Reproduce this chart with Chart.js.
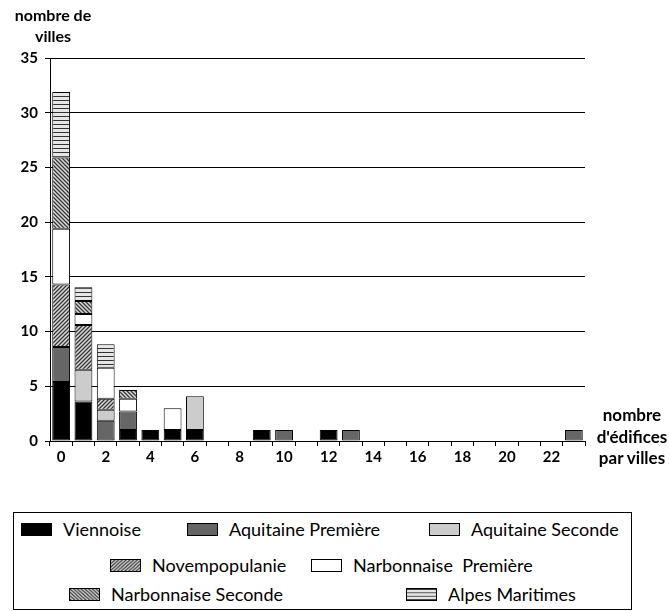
<!DOCTYPE html>
<html>
<head>
<meta charset="utf-8">
<script src="https://cdn.jsdelivr.net/npm/chart.js@4.4.0/dist/chart.umd.min.js"></script>
<style>
    body { margin: 0; background: #fff; font-family: "Lato", sans-serif; }
    #page { position: relative; width: 669px; height: 611px; }
    #chartBox { position: absolute; left: 0; top: 0; width: 669px; height: 470px; }
    .axisTitle { position: absolute; font-weight: bold; text-align: center; color: #000; }
    #legend { position: absolute; left: 13px; top: 512px; width: 617px; height: 96px; border: 1px solid #000; }
    .item { position: absolute; display: flex; align-items: center; height: 22px; line-height: 22px; font-size: 18px; color: #000; white-space: pre; }
    .item canvas { width: 31px; height: 13px; border: 1px solid #000; margin-right: 11px; box-sizing: border-box; }
</style>
</head>
<body>
<div id="page">
    <div id="chartBox"><canvas id="chart"></canvas></div>
    <div class="axisTitle" style="left:3px; top:4px; width:100px; font-size:16px; line-height:21px;">nombre de<br>villes</div>
    <div class="axisTitle" style="left:587px; top:404px; width:90px; font-size:17px; line-height:21.5px;">nombre<br>d'édifices<br>par villes</div>
    <div id="legend"></div>
</div>
<script>
// nombre d'édifices par ville (0 .. 23)
const categories = ['0','1','2','3','4','5','6','7','8','9','10','11','12','13','14','15','16','17','18','19','20','21','22','23'];

const viennoise     = [5.4, 3.6, 0,    1,    1, 1, 1,   0, 0, 1, 0, 0, 1, 0, 0, 0, 0, 0, 0, 0, 0, 0, 0, 0];
const aquitaine1    = [3.2, 0,   1.85, 1.7,  0, 0, 0,   0, 0, 0, 1, 0, 0, 1, 0, 0, 0, 0, 0, 0, 0, 0, 0, 1];
const aquitaine2    = [0,   2.9, 1,    0,    0, 0, 3.1, 0, 0, 0, 0, 0, 0, 0, 0, 0, 0, 0, 0, 0, 0, 0, 0, 0];
const novempopulanie = [5.7, 4.1, 1,   0,    0, 0, 0,   0, 0, 0, 0, 0, 0, 0, 0, 0, 0, 0, 0, 0, 0, 0, 0, 0];
const narbonnaise1  = [5.1, 1,   2.85, 1.15, 0, 2, 0,   0, 0, 0, 0, 0, 0, 0, 0, 0, 0, 0, 0, 0, 0, 0, 0, 0];
const narbonnaise2  = [6.5, 1.2, 0,    0.8,  0, 0, 0,   0, 0, 0, 0, 0, 0, 0, 0, 0, 0, 0, 0, 0, 0, 0, 0, 0];
const alpes         = [6,   1.25, 2.15, 0,   0, 0, 0,   0, 0, 0, 0, 0, 0, 0, 0, 0, 0, 0, 0, 0, 0, 0, 0, 0];

const yTicks = [0, 5, 10, 15, 20, 25, 30, 35];

// hatch patterns
function makePattern(kind) {
    const c = document.createElement('canvas');
    const s = 4;
    c.width = s; c.height = s;
    const g = c.getContext('2d');
    g.fillStyle = kind == 'h' ? '#e6e6e6' : '#dcdcdc';
    g.fillRect(0, 0, s, s);
    g.strokeStyle = '#333';
    g.lineWidth = 1.3;
    g.beginPath();
    if (kind == 'h') {
        g.lineWidth = 1;
        g.moveTo(0, 0.5); g.lineTo(s, 0.5);
    } else if (kind == 'f') { // "/"
        g.moveTo(0, s); g.lineTo(s, 0);
        g.moveTo(-1, 1); g.lineTo(1, -1);
        g.moveTo(s - 1, s + 1); g.lineTo(s + 1, s - 1);
    } else { // "\"
        g.moveTo(0, 0); g.lineTo(s, s);
        g.moveTo(-1, s - 1); g.lineTo(1, s + 1);
        g.moveTo(s - 1, -1); g.lineTo(s + 1, 1);
    }
    g.stroke();
    return g.createPattern(c, 'repeat');
}

const series = [
    { label: 'Viennoise', data: viennoise, fill: '#000000' },
    { label: 'Aquitaine Première', data: aquitaine1, fill: '#666666' },
    { label: 'Aquitaine Seconde', data: aquitaine2, fill: '#cccccc' },
    { label: 'Novempopulanie', data: novempopulanie, fill: makePattern('f') },
    { label: 'Narbonnaise  Première', data: narbonnaise1, fill: '#ffffff' },
    { label: 'Narbonnaise Seconde', data: narbonnaise2, fill: makePattern('b') },
    { label: 'Alpes Maritimes', data: alpes, fill: makePattern('h') }
];

const datasets = series.map(function(s) {
    return {
        label: s.label,
        data: s.data.map(function(v) { return v == 0 ? null : v; }),
        backgroundColor: s.fill,
        borderColor: '#000',
        borderWidth: 1,
        borderSkipped: false,
        barPercentage: 0.8,
        categoryPercentage: 1
    };
});

const ctx = document.getElementById('chart');
let chart = new Chart(ctx, {
    type: 'bar',
    data: { labels: categories, datasets: datasets },
    options: {
        responsive: true,
        maintainAspectRatio: false,
        animation: false,
        layout: { padding: { left: 0, top: 58, right: 84, bottom: 0 } },
        plugins: { legend: { display: false }, tooltip: { enabled: false } },
        scales: {
            x: {
                stacked: true,
                afterFit: function(scale) { scale.height = 29; },
                grid: { offset: true, drawOnChartArea: false, drawTicks: true, tickLength: 5, color: '#000', lineWidth: 1 },
                border: { display: true, color: '#000', width: 1 },
                ticks: {
                    autoSkip: false,
                    maxRotation: 0,
                    padding: 2,
                    color: '#000',
                    font: { family: 'Lato', size: 15, weight: 'bold' },
                    callback: function(val, index) { return index % 2 == 0 ? categories[index] : ''; }
                }
            },
            y: {
                stacked: true,
                min: 0,
                max: 35,
                afterFit: function(scale) { scale.width = 50; },
                afterBuildTicks: function(scale) { scale.ticks = yTicks.map(function(v) { return { value: v }; }); },
                grid: { color: '#000', lineWidth: 1, tickLength: 5 },
                border: { display: true, color: '#000', width: 1 },
                ticks: {
                    padding: 7,
                    color: '#000',
                    font: { family: 'Lato', size: 15, weight: 'bold' }
                }
            }
        }
    }
});

// legend (3 rows, like the figure)
const legendPos = [
    [7, 5], [173, 5], [415, 5],
    [96, 41], [297, 41],
    [55, 70], [392, 70]
];
const legend = document.getElementById('legend');
series.forEach(function(s, i) {
    const item = document.createElement('div');
    item.className = 'item';
    item.style.left = legendPos[i][0] + 'px';
    item.style.top = legendPos[i][1] + 'px';
    const sw = document.createElement('canvas');
    sw.width = 31; sw.height = 13;
    const g = sw.getContext('2d');
    g.fillStyle = s.fill;
    g.fillRect(0, 0, 31, 13);
    item.appendChild(sw);
    item.appendChild(document.createTextNode(s.label));
    legend.appendChild(item);
});
</script>
</body>
</html>
